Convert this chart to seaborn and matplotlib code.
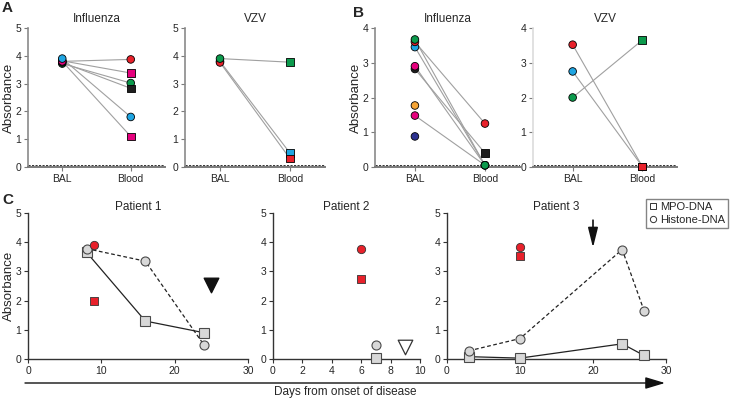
import numpy as np
import pandas as pd
import matplotlib.pyplot as plt
import seaborn as sns
from matplotlib.lines import Line2D

sns.set_style("ticks")
plt.rcParams['font.family'] = ['Liberation Sans', 'DejaVu Sans']
plt.rcParams['xtick.labelsize'] = 7.5
plt.rcParams['ytick.labelsize'] = 7.5

# colours of the individual patients
RED = '#e8212b'
MAG = '#e5007d'
GRN = '#0b9a4c'
BLU = '#1fa5e2'
BLK = '#1e1e1e'
ORA = '#f6a535'
NAV = '#2c3190'

# ---- panel A (BAL vs blood) ----
a_flu_colors = [RED, MAG, GRN, BLK, MAG, BLU]
a_flu_bal = [3.80, 3.82, 3.72, 3.76, 3.80, 3.90]
a_flu_blood = [3.87, 3.38, 3.02, 2.83, 1.10, 1.80]
a_flu_shapes = ['o', 's', 'o', 's', 's', 'o']

a_vzv_colors = [BLU, RED, GRN]
a_vzv_bal = [3.80, 3.76, 3.90]
a_vzv_blood = [0.50, 0.30, 3.77]
a_vzv_shapes = ['s', 's', 's']

# ---- panel B ----
b_flu_colors = [NAV, MAG, ORA, BLK, MAG, BLU, RED, GRN]
b_flu_bal = [0.88, 1.48, 1.77, 2.82, 2.90, 3.45, 3.60, 3.67]
b_flu_blood = [None, 0.05, None, 0.40, 0.05, 0.05, 1.25, 0.05]
b_flu_shapes = ['o', 'o', 'o', 's', 'o', 'o', 'o', 'o']

b_vzv_colors = [GRN, BLU, RED]
b_vzv_bal = [2.00, 2.75, 3.52]
b_vzv_blood = [3.65, 0.02, 0.02]
b_vzv_shapes = ['s', 's', 's']

site_labels = ['BAL', 'Blood']

# ---- panel C (time course) ----
p1_days = [8, 16, 24]
p1_mpo = [3.65, 1.30, 0.90]
p1_hist = [3.78, 3.35, 0.48]
p1_red_day = 9
p1_red_circle = 3.92
p1_red_square = 2.00
p1_tri = (25, 2.55)

p2_days = [7]
p2_mpo = [0.03]
p2_hist = [0.48]
p2_red_day = 6
p2_red_circle = 3.77
p2_red_square = 2.75
p2_tri = (9, 0.42)

p3_days = [3, 10, 24, 27]
p3_mpo = [0.08, 0.03, 0.52, 0.12]
p3_hist = [0.28, 0.70, 3.75, 1.65]
p3_red_day = 10
p3_red_circle = 3.82
p3_red_square = 3.52
p3_arrow_day = 20

W, H = 730, 400
fig = plt.figure(figsize=(7.3, 4.0), dpi=100)


def box(x0, x1, y_top, y_bot):
    return [x0 / W, 1 - y_bot / H, (x1 - x0) / W, (y_bot - y_top) / H]


def paired(ax, colors, bal, blood, shapes, ymax, title, xlo, ylabel, spine_col='#8a8a8a'):
    rows = []
    for i, (c, b, bl, m) in enumerate(zip(colors, bal, blood, shapes)):
        rows.append(dict(subject=i, site=0, value=b, color=c, shape='o'))
        if bl is not None:
            rows.append(dict(subject=i, site=1, value=bl, color=c, shape=m))
    df = pd.DataFrame(rows)
    sns.lineplot(data=df, x='site', y='value', units='subject', estimator=None,
                 color='#a0a0a0', lw=0.8, ax=ax, legend=False, zorder=2)
    ax.axhline(0.07, ls=(0, (2.2, 1.4)), color='#333333', lw=0.7, zorder=1)
    pal = {c: c for c in df['color'].unique()}
    sns.scatterplot(data=df, x='site', y='value', hue='color', palette=pal,
                    style='shape', markers={'o': 'o', 's': 's'}, s=30,
                    edgecolor='black', linewidth=0.6, legend=False, ax=ax,
                    zorder=3, clip_on=False)
    ax.set_xlim(xlo, 1.5)
    ax.set_ylim(0, ymax)
    ax.set_xticks([0, 1])
    ax.set_xticklabels(site_labels)
    ax.set_yticks(range(ymax + 1))
    ax.set_xlabel('')
    ax.set_ylabel(ylabel, fontsize=9.5)
    ax.set_title(title, fontsize=8.5, pad=4)
    sns.despine(ax=ax)
    ax.spines['left'].set_color(spine_col)
    ax.spines['bottom'].set_color('#7a7a7a')
    ax.spines['left'].set_linewidth(1.2)
    ax.spines['bottom'].set_linewidth(1.4)
    ax.tick_params(length=3, width=0.8, color='#7a7a7a', pad=2)


axA1 = fig.add_axes(box(28, 165, 28, 167))
axA2 = fig.add_axes(box(185, 325, 28, 167))
axB1 = fig.add_axes(box(375, 520, 28, 167))
axB2 = fig.add_axes(box(533, 677, 28, 167))

paired(axA1, a_flu_colors, a_flu_bal, a_flu_blood, a_flu_shapes, 5, 'Influenza', -0.5, 'Absorbance')
paired(axA2, a_vzv_colors, a_vzv_bal, a_vzv_blood, a_vzv_shapes, 5, 'VZV', -0.5, '')
paired(axB1, b_flu_colors, b_flu_bal, b_flu_blood, b_flu_shapes, 4, 'Influenza', -0.57, 'Absorbance')
paired(axB2, b_vzv_colors, b_vzv_bal, b_vzv_blood, b_vzv_shapes, 4, 'VZV', -0.57, '', spine_col='#dcdcdc')
# label coords give the right edge of the rotated label
axA1.yaxis.set_label_coords(-0.095, 0.5)
axB1.yaxis.set_label_coords(-0.09, 0.5)

axC1 = fig.add_axes(box(28, 248, 213, 359))
axC2 = fig.add_axes(box(273, 420, 213, 359))
axC3 = fig.add_axes(box(447, 666, 213, 359))

GRAY_FILL = '#d8d8d8'
EDGE = '#4a4a4a'


def patient(ax, days, mpo, hist, red_day, red_c, red_s, title, xmax, xticks):
    sns.lineplot(x=days, y=mpo, ax=ax, color='#222222', lw=0.9, marker='s',
                 markersize=6.5, markerfacecolor=GRAY_FILL, markeredgecolor=EDGE,
                 markeredgewidth=0.8, zorder=3, clip_on=False)
    sns.lineplot(x=days, y=hist, ax=ax, color='#222222', lw=0.9, ls=(0, (3, 2)),
                 marker='o', markersize=6.5, markerfacecolor=GRAY_FILL,
                 markeredgecolor=EDGE, markeredgewidth=0.8, zorder=3, clip_on=False)
    sns.scatterplot(x=[red_day], y=[red_c], ax=ax, marker='o', s=36, color=RED,
                    edgecolor='#333333', linewidth=0.6, zorder=4)
    sns.scatterplot(x=[red_day], y=[red_s], ax=ax, marker='s', s=36, color=RED,
                    edgecolor='#333333', linewidth=0.6, zorder=4)
    ax.set_xlim(0, xmax)
    ax.set_ylim(0, 5)
    ax.set_xticks(xticks)
    ax.set_yticks(range(6))
    ax.set_title(title, fontsize=8.5, pad=1)
    sns.despine(ax=ax)
    for s in ('left', 'bottom'):
        ax.spines[s].set_color('#333333')
        ax.spines[s].set_linewidth(1.0)
    ax.tick_params(length=3, width=0.8, color='#333333', pad=2)


patient(axC1, p1_days, p1_mpo, p1_hist, p1_red_day, p1_red_circle, p1_red_square,
        'Patient 1', 30, [0, 10, 20, 30])
patient(axC2, p2_days, p2_mpo, p2_hist, p2_red_day, p2_red_circle, p2_red_square,
        'Patient 2', 10, [0, 2, 4, 6, 8, 10])
patient(axC3, p3_days, p3_mpo, p3_hist, p3_red_day, p3_red_circle, p3_red_square,
        'Patient 3', 30, [0, 10, 20, 30])
axC1.set_ylabel('Absorbance', fontsize=9.5)
axC1.yaxis.set_label_coords(-0.06, 0.5)

# treatment markers
axC1.scatter([p1_tri[0]], [p1_tri[1]], marker='v', s=110, color='#111111', zorder=4)
axC2.scatter([p2_tri[0]], [p2_tri[1]], marker='v', s=110, facecolor='white',
             edgecolor='#333333', linewidth=0.9, zorder=4)
axC3.annotate('', xy=(p3_arrow_day, 3.72), xytext=(p3_arrow_day, 4.85),
              arrowprops=dict(arrowstyle='-|>,head_length=0.8,head_width=0.2',
                              mutation_scale=15, color='#111111', lw=1.2))

# legend
handles = [Line2D([], [], ls='none', marker='s', markersize=4.5, markerfacecolor='white',
                  markeredgecolor='#333333', markeredgewidth=0.7),
           Line2D([], [], ls='none', marker='o', markersize=4.5, markerfacecolor='white',
                  markeredgecolor='#333333', markeredgewidth=0.7)]
fig.legend(handles, ['MPO-DNA', 'Histone-DNA'], loc='upper right',
           bbox_to_anchor=(728 / W, 1 - 199 / H), fontsize=8, frameon=True,
           fancybox=False, edgecolor='#666666', handlelength=0.6,
           handletextpad=0.3, borderpad=0.3, labelspacing=0.2, borderaxespad=0)

# time arrow under panel C
axC1.annotate('', xy=(665 / W, 1 - 383 / H), xytext=(25 / W, 1 - 383 / H),
              xycoords='figure fraction', textcoords='figure fraction',
              arrowprops=dict(arrowstyle='-|>,head_length=1.2,head_width=0.36',
                              mutation_scale=10, color='#111111', lw=1.0,
                              shrinkA=0, shrinkB=0))
fig.text(345 / W, 1 - 392 / H, 'Days from onset of disease', fontsize=8.5,
         ha='center', va='center')

# panel letters
fig.text(2 / W, 1 - 8 / H, 'A', fontsize=11, weight='bold', va='center')
fig.text(353 / W, 1 - 13 / H, 'B', fontsize=11, weight='bold', va='center')
fig.text(2 / W, 1 - 200 / H, 'C', fontsize=11, weight='bold', va='center')

fig.savefig('out.png', dpi=100)
